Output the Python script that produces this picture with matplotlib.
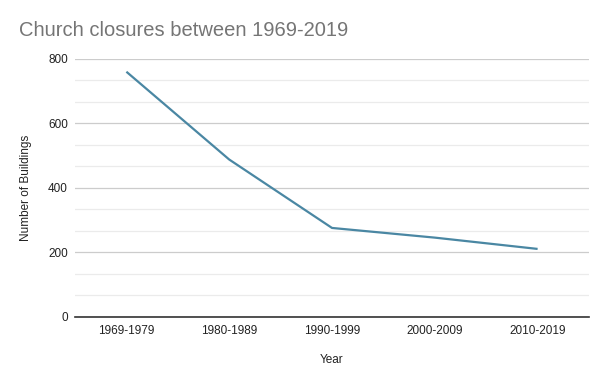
import matplotlib
matplotlib.use('Agg')
import matplotlib.pyplot as plt
from matplotlib.ticker import MultipleLocator

plt.rcParams['font.family'] = ['Liberation Sans', 'DejaVu Sans']

years = ['1969-1979', '1980-1989', '1990-1999', '2000-2009', '2010-2019']
closures = [759, 487, 275, 245, 210]

fig = plt.figure(figsize=(6.08, 3.86), dpi=100)
ax = fig.add_axes([75/608, 1-316.7/386, 514/608, 258.2/386])

x = range(len(years))
ax.plot(x, closures, color='#4a87a3', lw=1.6, solid_capstyle='butt', zorder=3)

ax.set_xlim(-0.5, len(years) - 0.5)
ax.set_ylim(0, 800)
ax.set_xticks(list(x))
ax.set_xticklabels(years)
ax.yaxis.set_major_locator(MultipleLocator(200))
ax.yaxis.set_minor_locator(MultipleLocator(200/3))

ax.grid(axis='y', which='major', color='#cccccc', lw=0.9)
ax.grid(axis='y', which='minor', color='#ebebeb', lw=0.9)
ax.set_axisbelow(True)

for s in ['top', 'right', 'left']:
    ax.spines[s].set_visible(False)
ax.spines['bottom'].set_color('#333333')
ax.spines['bottom'].set_linewidth(1.2)
ax.spines['bottom'].set_zorder(4)

ax.tick_params(axis='both', which='both', length=0, labelsize=8.5, colors='#222222')
ax.tick_params(axis='y', pad=5)
ax.tick_params(axis='x', pad=6)

ax.set_xlabel('Year', fontsize=8.5, color='#222222', labelpad=12)
ax.set_ylabel('Number of Buildings', fontsize=8.5, color='#222222', labelpad=12)

fig.text(19/608, 1-36/386, 'Church closures between 1969-2019', fontsize=14.5,
         color='#757575', ha='left', va='baseline')

fig.savefig('out.png', dpi=100, facecolor='white')
